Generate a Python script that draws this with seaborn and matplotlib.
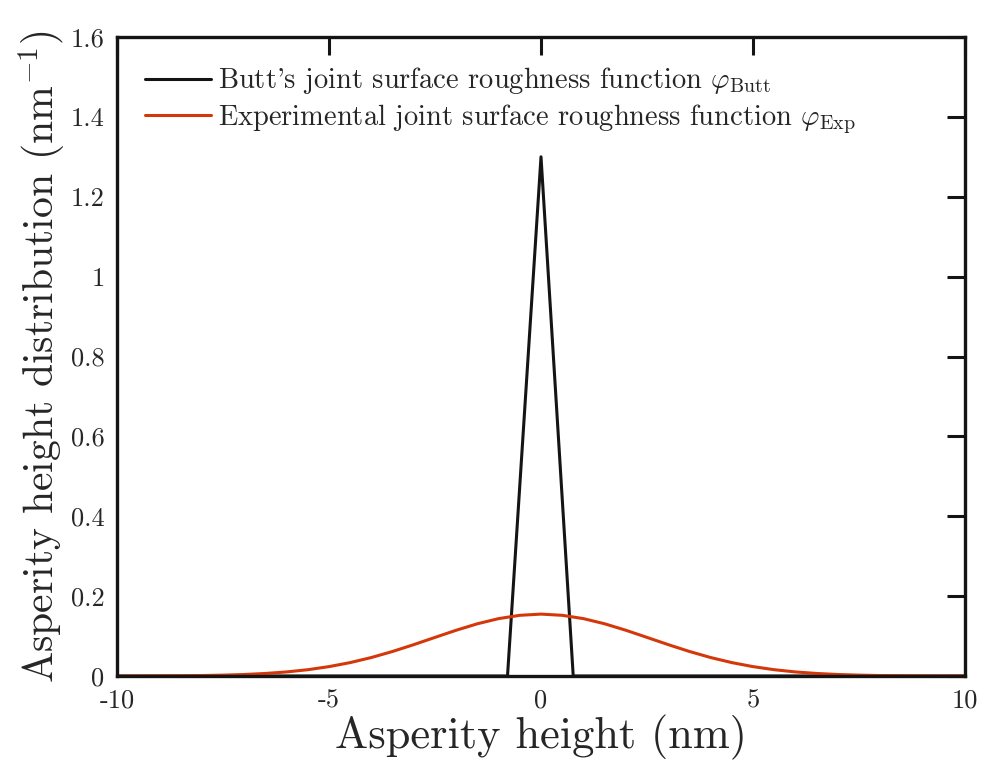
import matplotlib
matplotlib.use("Agg")
import matplotlib.pyplot as plt
import numpy as np
import pandas as pd
import seaborn as sns

# Butt's triangular roughness function
butt_x = [-10.0, -0.79, 0.0, 0.76, 10.0]
butt_y = [0.0, 0.0, 1.30, 0.0, 0.0]

# experimental roughness function, every 0.5 nm
exp_x = [-10.0, -9.5, -9.0, -8.5, -8.0, -7.5, -7.0, -6.5, -6.0, -5.5, -5.0,
         -4.5, -4.0, -3.5, -3.0, -2.5, -2.0, -1.5, -1.0, -0.5, 0.0,
         0.5, 1.0, 1.5, 2.0, 2.5, 3.0, 3.5, 4.0, 4.5, 5.0,
         5.5, 6.0, 6.5, 7.0, 7.5, 8.0, 8.5, 9.0, 9.5, 10.0]
exp_y = [0.0001, 0.0001, 0.0003, 0.0006, 0.0012, 0.0022, 0.0038, 0.0064, 0.0102, 0.0158, 0.0235,
         0.0336, 0.0463, 0.0615, 0.0786, 0.0967, 0.1146, 0.1308, 0.1437, 0.1520, 0.1550,
         0.1520, 0.1437, 0.1308, 0.1146, 0.0967, 0.0786, 0.0615, 0.0463, 0.0336, 0.0235,
         0.0158, 0.0102, 0.0064, 0.0038, 0.0022, 0.0012, 0.0006, 0.0003, 0.0001, 0.0001]

x_ticks = [-10, -5, 0, 5, 10]
y_ticks = [0, 0.2, 0.4, 0.6, 0.8, 1, 1.2, 1.4, 1.6]
y_ticklabels = ["0", "0.2", "0.4", "0.6", "0.8", "1", "1.2", "1.4", "1.6"]

sns.set_style("white")
plt.rcParams["font.family"] = "cmr10"
plt.rcParams["mathtext.fontset"] = "cm"
plt.rcParams["axes.unicode_minus"] = False

fig = plt.figure(figsize=(9.84, 7.74), dpi=100)
ax = fig.add_axes([0.1189, 0.1266, 0.8618, 0.8256])

sns.lineplot(x=butt_x, y=butt_y, ax=ax, color="#141414", linewidth=2.2,
             label=r"Butt's joint surface roughness function $\varphi_{\rm Butt}$")
sns.lineplot(x=exp_x, y=exp_y, ax=ax, color="#D4380A", linewidth=2.2,
             label=r"Experimental joint surface roughness function $\varphi_{\rm Exp}$")

ax.set_xlim(-10, 10)
ax.set_ylim(0, 1.6)
ax.set_xticks(x_ticks)
ax.set_xticklabels([str(t) for t in x_ticks])
ax.set_yticks(y_ticks)
ax.set_yticklabels(y_ticklabels)

for s in ax.spines.values():
    s.set_visible(True)
    s.set_color("#141414")
    s.set_linewidth(2.4)
ax.tick_params(direction="in", length=13, width=2.2, color="#141414",
               top=True, right=True, labelsize=19)
ax.tick_params(axis="x", pad=9)
ax.tick_params(axis="y", pad=9)

ax.set_xlabel("Asperity height (nm)", fontsize=32, labelpad=2)
ax.set_ylabel(r"Asperity height distribution (nm$^{-1}$)", fontsize=30, labelpad=2)

leg = ax.legend(loc="upper left", frameon=False, fontsize=20.5, handlelength=2.3,
                handletextpad=0.25, borderaxespad=0.6, labelspacing=0.2)

fig.savefig("out.png", dpi=100)
plt.close(fig)
